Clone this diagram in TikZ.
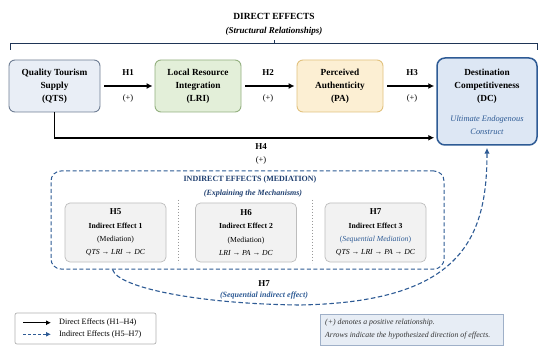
\documentclass[tikz,border=0pt]{standalone}
\usepackage{fontspec}
\setmainfont{Liberation Serif}
\usetikzlibrary{arrows.meta}
\definecolor{dblue}{HTML}{2E5B95}
\definecolor{tblue}{HTML}{1F3F70}
\definecolor{navy}{HTML}{1F3556}
\definecolor{qtsfill}{HTML}{E9EEF6}
\definecolor{qtsdraw}{HTML}{6F7E94}
\definecolor{lrifill}{HTML}{E3EFD9}
\definecolor{lridraw}{HTML}{93B07F}
\definecolor{pafill}{HTML}{FCEFD3}
\definecolor{padraw}{HTML}{E2C27E}
\definecolor{dcfill}{HTML}{DDE7F4}
\definecolor{inbox}{HTML}{F2F2F2}
\definecolor{indraw}{HTML}{BDBDBD}
\definecolor{notefill}{HTML}{E7EDF5}
\definecolor{notedraw}{HTML}{9FB0C8}
\newcommand\myfs[2]{\fontsize{#1}{#2}\selectfont}
\begin{document}
\begin{tikzpicture}[x=1pt,y=-1pt,
  mainbox/.style={draw, rounded corners=6pt, line width=0.9pt, align=center,
    inner sep=0pt, font=\myfs{9.3}{13}\bfseries, text=black},
  inbx/.style={draw=indraw, fill=inbox, rounded corners=5pt, line width=0.7pt,
    align=center, inner sep=0pt, minimum width=101pt, minimum height=59pt,
    font=\myfs{7.7}{13.3}},
  arr/.style={line width=1.6pt, -{Latex[length=6pt,width=6pt]}},
  darr/.style={dblue, line width=1.1pt, dash pattern=on 4.5pt off 2.5pt,
    -{Latex[length=6pt,width=5.5pt]}},
  hlab/.style={font=\myfs{9}{11}\bfseries, inner sep=0pt},
  plab/.style={font=\myfs{8.5}{10}, inner sep=0pt},
  sep/.style={draw=gray!80, line width=0.8pt, dash pattern=on 1.4pt off 1.6pt},
  legtxt/.style={font=\myfs{8.2}{9}, anchor=west, inner sep=0pt},
  notetxt/.style={font=\myfs{7.8}{9}\itshape, anchor=west, inner sep=0pt, text=black!80}
]
\useasboundingbox (0,0) rectangle (550,353);
\fill[white] (0,0) rectangle (550,353);

% Title and brace
\node[font=\myfs{9.4}{11}\bfseries, inner sep=0pt] (t1) at (274,16) {DIRECT EFFECTS};
\node[font=\myfs{9}{11}\bfseries\itshape, inner sep=0pt] (t2) at (274,31) {(Structural Relationships)};
\draw[navy, line width=1pt] (10,50) -- (10,44) -- (537,44) -- (537,50);
\draw[navy, line width=1pt] (274,44) -- (274,40);

% Main boxes
\node[mainbox, fill=qtsfill, draw=qtsdraw, minimum width=91pt, minimum height=52pt] (qts) at (54.5,86) {Quality Tourism\\Supply\\(QTS)};
\node[mainbox, fill=lrifill, draw=lridraw, minimum width=86pt, minimum height=52pt] (lri) at (198,86) {Local Resource\\Integration\\(LRI)};
\node[mainbox, fill=pafill, draw=padraw, minimum width=86pt, minimum height=52pt] (pa) at (340,86) {Perceived\\Authenticity\\(PA)};
\node[mainbox, fill=dcfill, draw=dblue, line width=1.5pt, rounded corners=8pt, minimum width=100pt, minimum height=87pt] (dc) at (487,101.5)
  {Destination\\Competitiveness\\(DC)\\[7pt]{\mdseries\itshape\color{dblue}\myfs{8.4}{12}Ultimate Endogenous}\\{\mdseries\itshape\color{dblue}\myfs{8.4}{12}Construct}};

% Direct arrows
\draw[arr, shorten <=4pt, shorten >=2pt] (qts) -- (lri);
\draw[arr, shorten <=4pt, shorten >=2pt] (lri) -- (pa);
\draw[arr, shorten <=4pt, shorten >=2pt] (pa.east) -- (pa.east -| dc.west);
\draw[arr, shorten >=2pt] (qts.south) |- ([yshift=8pt]dc.south west);

\node[hlab] (h1) at (128,73) {H1};
\node[plab] (p1) at (128,98) {(+)};
\node[hlab] (h2) at (268,73) {H2};
\node[plab] (p2) at (268,98) {(+)};
\node[hlab] (h3) at (412,73) {H3};
\node[plab] (p3) at (412,98) {(+)};
\node[hlab] (h4) at (261,147) {H4};
\node[plab] (p4) at (261,160) {(+)};

% Mediation box
\node[draw=dblue, line width=1pt, dash pattern=on 4pt off 2.5pt, rounded corners=10pt,
  minimum width=393pt, minimum height=98pt, inner sep=0pt] (med) at (247.5,220) {};
\node[font=\myfs{8}{10}\bfseries, text=tblue, inner sep=0pt] (mt1) at (250,180) {INDIRECT EFFECTS (MEDIATION)};
\node[font=\myfs{8}{10}\bfseries\itshape, text=tblue, inner sep=0pt] (mt2) at (253,194) {(Explaining the Mechanisms)};

\node[inbx] (b5) at (115.5,232.5) {{\bfseries\myfs{9}{13.3}H5}\\{\bfseries Indirect Effect 1}\\(Mediation)\\{\itshape QTS → LRI → DC}};
\node[inbx] (b6) at (246,232.5) {{\bfseries\myfs{9}{13.3}H6}\\{\bfseries Indirect Effect 2}\\(Mediation)\\{\itshape LRI → PA → DC}};
\node[inbx] (b7) at (375.5,232.5) {{\bfseries\myfs{9}{13.3}H7}\\{\bfseries Indirect Effect 3}\\{\color{dblue}(\textit{Sequential Mediation})}\\{\itshape QTS → LRI → PA → DC}};

\draw[sep] (178,200) -- (178,263);
\draw[sep] (312,200) -- (312,263);

% H7 sequential curve
\draw[darr, shorten >=2pt] ([xshift=62pt]med.south west) .. controls (118,288) and (200,304) .. (300,305)
  .. controls (460,302) and (487,240) .. (dc.south);
\node[hlab] (h7) at (264,284) {H7};
\node[font=\myfs{8}{10}\bfseries\itshape, text=dblue, inner sep=0pt] (h7t) at (264,296) {(Sequential indirect effect)};

% Legend
\node[draw=gray!60, line width=0.7pt, rounded corners=2pt, minimum width=141pt, minimum height=31pt, inner sep=0pt] (leg) at (85.5,328.5) {};
\coordinate (la1) at (23,322.7);
\coordinate (lb1) at (51,322.7);
\coordinate (la2) at (23,334.3);
\coordinate (lb2) at (51,334.3);
\draw[line width=1.3pt, -{Latex[length=5pt,width=5pt]}] (la1) -- (lb1);
\draw[dblue, line width=1.1pt, dash pattern=on 3pt off 2pt, -{Latex[length=5pt,width=5pt]}] (la2) -- (lb2);
\node[legtxt] (lt1) at (59,322.7) {Direct Effects (H1–H4)};
\node[legtxt] (lt2) at (59,334.3) {Indirect Effects (H5–H7)};

% Note
\node[draw=notedraw, fill=notefill, line width=0.8pt, minimum width=183pt, minimum height=31pt, inner sep=0pt] (note) at (411.5,329.5) {};
\node[notetxt] (nt1) at (325,323) {(+) denotes a positive relationship.};
\node[notetxt] (nt2) at (325,336) {Arrows indicate the hypothesized direction of effects.};
\end{tikzpicture}
\end{document}
